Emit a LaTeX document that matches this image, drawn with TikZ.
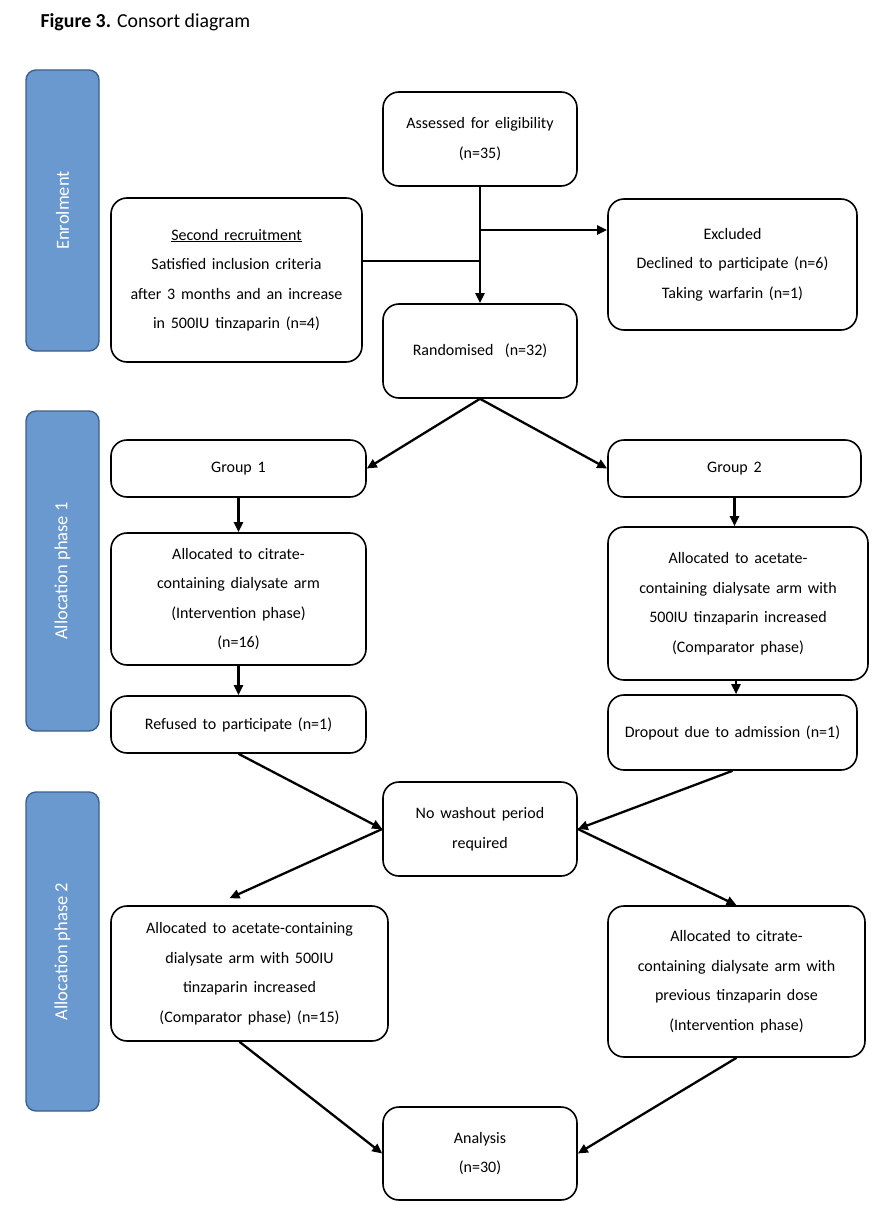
\documentclass[tikz,border=0pt]{standalone}
\usepackage{fontspec}
\setmainfont{Carlito}
\usetikzlibrary{arrows.meta}
\definecolor{barfill}{RGB}{106,153,208}
\definecolor{barline}{RGB}{60,95,140}
\newcommand\boxfontsetup{\fontsize{16}{29.5}\selectfont\spaceskip=0.36em plus 0.1em\relax}
\begin{document}
\begin{tikzpicture}[x=1pt,y=-1pt,
  box/.style={draw=black, line width=1.6pt, rounded corners=16pt, inner sep=0pt,
    align=center, font=\boxfontsetup},
  bar/.style={draw=barline, fill=barfill, line width=1.4pt, rounded corners=10pt, inner sep=0pt},
  barlabel/.style={rotate=90, text=white, font=\fontsize{18.5}{22}\selectfont},
  conn/.style={line width=2.3pt},
  arr/.style={conn, -{Triangle[length=10pt,width=9pt]}}]
\useasboundingbox (0,0) rectangle (886,1228);
\node[anchor=west, font=\fontsize{19.8}{24}\selectfont] (title) at (37,22) {\textbf{Figure 3.} Consort diagram};
% side bars
\node[bar, minimum width=73, minimum height=281] (b_enr) at (62.5,210.5) {};
\node[barlabel] (t_enr) at (b_enr.center) {Enrolment};
\node[bar, minimum width=73, minimum height=320] (b_al1) at (62.5,571) {};
\node[barlabel] (t_al1) at (b_al1.center) {Allocation phase 1};
\node[bar, minimum width=73, minimum height=319] (b_al2) at (62.5,951.5) {};
\node[barlabel] (t_al2) at (b_al2.center) {Allocation phase 2};
% boxes
\node[box, minimum width=194, minimum height=94] (assess) at (480,139) {Assessed for eligibility\\(n=35)};
\node[box, minimum width=251, minimum height=164] (second) at (236.5,280) {\underline{Second recruitment}\\Satisfied inclusion criteria\\after 3 months and an increase\\in 500IU tinzaparin (n=4)};
\node[box, minimum width=249, minimum height=131] (excl) at (732.5,264.5) {Excluded\\Declined to participate (n=6)\\Taking warfarin (n=1)};
\node[box, minimum width=194, minimum height=94] (rand) at (480,351) {Randomised\ \ (n=32)};
\node[box, minimum width=255, minimum height=57] (g1) at (238.5,468.5) {Group 1};
\node[box, minimum width=253, minimum height=57] (g2) at (734.5,468.5) {Group 2};
\node[box, minimum width=255, minimum height=132] (a1) at (238.5,599) {Allocated to citrate-\\containing dialysate arm\\(Intervention phase)\\(n=16)};
\node[box, minimum width=260, minimum height=153] (a2) at (738,603.5) {Allocated to acetate-\\containing dialysate arm with\\500IU tinzaparin increased\\(Comparator phase)};
\node[box, minimum width=255, minimum height=57] (ref) at (238.5,724.5) {Refused to participate (n=1)};
\node[box, minimum width=249, minimum height=75] (drop) at (732.5,732.5) {Dropout due to admission (n=1)};
\node[box, minimum width=194, minimum height=94] (nw) at (480,829) {No washout period\\required};
\node[box, minimum width=277, minimum height=135] (bl) at (249.5,973.5) {Allocated to acetate-containing\\dialysate arm with 500IU\\tinzaparin increased\\(Comparator phase) (n=15)};
\node[box, minimum width=257, minimum height=151] (br) at (736.5,981.5) {Allocated to citrate-\\containing dialysate arm with\\previous tinzaparin dose\\(Intervention phase)};
\node[box, minimum width=194, minimum height=93] (ana) at (480,1153.5) {Analysis\\(n=30)};
% connectors
\coordinate (jx) at (481,230);
\coordinate (js) at (481,261);
\draw[arr] (assess.south) -- (rand.north);
\draw[arr] (jx) -- (jx -| excl.west);
\draw[conn] (js -| second.east) -- (js);
\draw[arr] (rand.south) -- (g1.east);
\draw[arr] (rand.south) -- (g2.west);
\draw[arr] (g1.south) -- (a1.north);
\draw[arr] (g2.south) -- (g2.south |- a2.north);
\draw[arr] (a1.south) -- (ref.north);
\draw[arr] ([xshift=-2]a2.south) -- ([xshift=-2]a2.south |- drop.north);
\draw[arr] (ref.south) -- (nw.west);
\draw[arr] (drop.south) -- (nw.east);
\draw[arr] (nw.west) -- ([shift={(-20,-7)}]bl.north);
\draw[arr] (nw.east) -- (br.north);
\draw[arr] ([xshift=-10]bl.south) -- (ana.west);
\draw[arr] (br.south) -- (ana.east);
\end{tikzpicture}
\end{document}
